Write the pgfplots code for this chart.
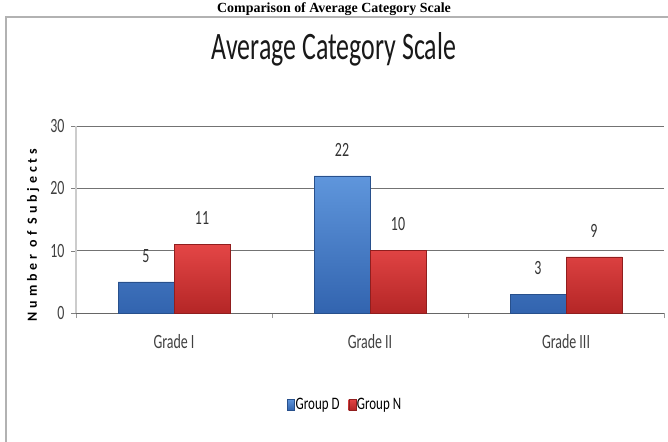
\documentclass[border=0pt]{standalone}
\usepackage{fontspec}
\setmainfont{Carlito}
\newfontfamily\serifb{Liberation Serif}
\usepackage{pgfplots}
\pgfplotsset{compat=1.18}
\definecolor{bluel}{RGB}{95,150,220}
\definecolor{blued}{RGB}{50,100,175}
\definecolor{redl}{RGB}{228,70,70}
\definecolor{redd}{RGB}{180,38,38}
\begin{document}
\begin{tikzpicture}[x=1bp,y=1bp]
\path[use as bounding box] (0,0) rectangle (668,-442);
\begin{scope}
\clip (0,0) rectangle (668,-442);
\draw[gray!60, line width=1.6bp] (6,-17) rectangle (690,-470);
\end{scope}
\node[font=\serifb\bfseries\fontsize{14}{16}\selectfont, anchor=base] at (334,-13) {Comparison of Average Category Scale};
\node[font=\fontsize{26}{30}\selectfont, anchor=base, yscale=1.5, transform shape, text=black!90] at (334,-60) {Average Category Scale};
\begin{axis}[
  at={(76bp,-313bp)}, anchor=south west,
  scale only axis, width=588bp, height=187bp,
  xmin=-0.5, xmax=2.5, ymin=0, ymax=30,
  xtick={0,1,2}, xticklabels={Grade I, Grade II, Grade III},
  minor xtick={-0.5,0.5,1.5,2.5},
  ytick={0,10,20,30},
  /pgf/number format/assume math mode=true,
  ymajorgrids, grid style={black!55, line width=0.8bp},
  axis x line*=bottom, axis y line*=left,
  x axis line style={black!60, line width=0.8bp},
  y axis line style={black!20, line width=1.2bp},
  major x tick style={draw=none},
  minor x tick style={black!40},
  ytick style={black!50},
  tick align=outside, major tick length=5bp, minor tick length=5bp,
  ticklabel style={font=\fontsize{14}{16}\selectfont, text=black!75, yscale=1.45},
  xticklabel style={yshift=-8bp},
  yticklabel style={xshift=-3bp},
  ylabel={Number of Subjects},
  ylabel style={font=\bfseries\fontsize{14}{16}\selectfont\addfontfeature{LetterSpace=28}, at={(axis description cs:-0.073,0.417)}, anchor=center},
  ybar=0pt, bar width=56bp,
  nodes near coords,
  nodes near coords style={font=\fontsize{14}{16}\selectfont, text=black!80, yscale=1.45, yshift=10bp},
  legend style={at={(axis description cs:0.457,-0.492)}, anchor=center, draw=none, fill=none, font=\fontsize{13}{15}\selectfont, legend columns=2, /tikz/every even column/.append style={column sep=8bp}, nodes={yscale=1.35, inner sep=1bp}},
  legend image code/.code={\fill[#1] (0bp,-5bp) rectangle (7bp,6bp);},
]
\addplot[draw=blued!80!black, top color=bluel, bottom color=blued] coordinates {(0,5) (1,22) (2,3)};
\addplot[draw=redd!80!black, top color=redl, bottom color=redd] coordinates {(0,11) (1,10) (2,9)};
\legend{Group D, Group N}
\end{axis}
\end{tikzpicture}
\end{document}
